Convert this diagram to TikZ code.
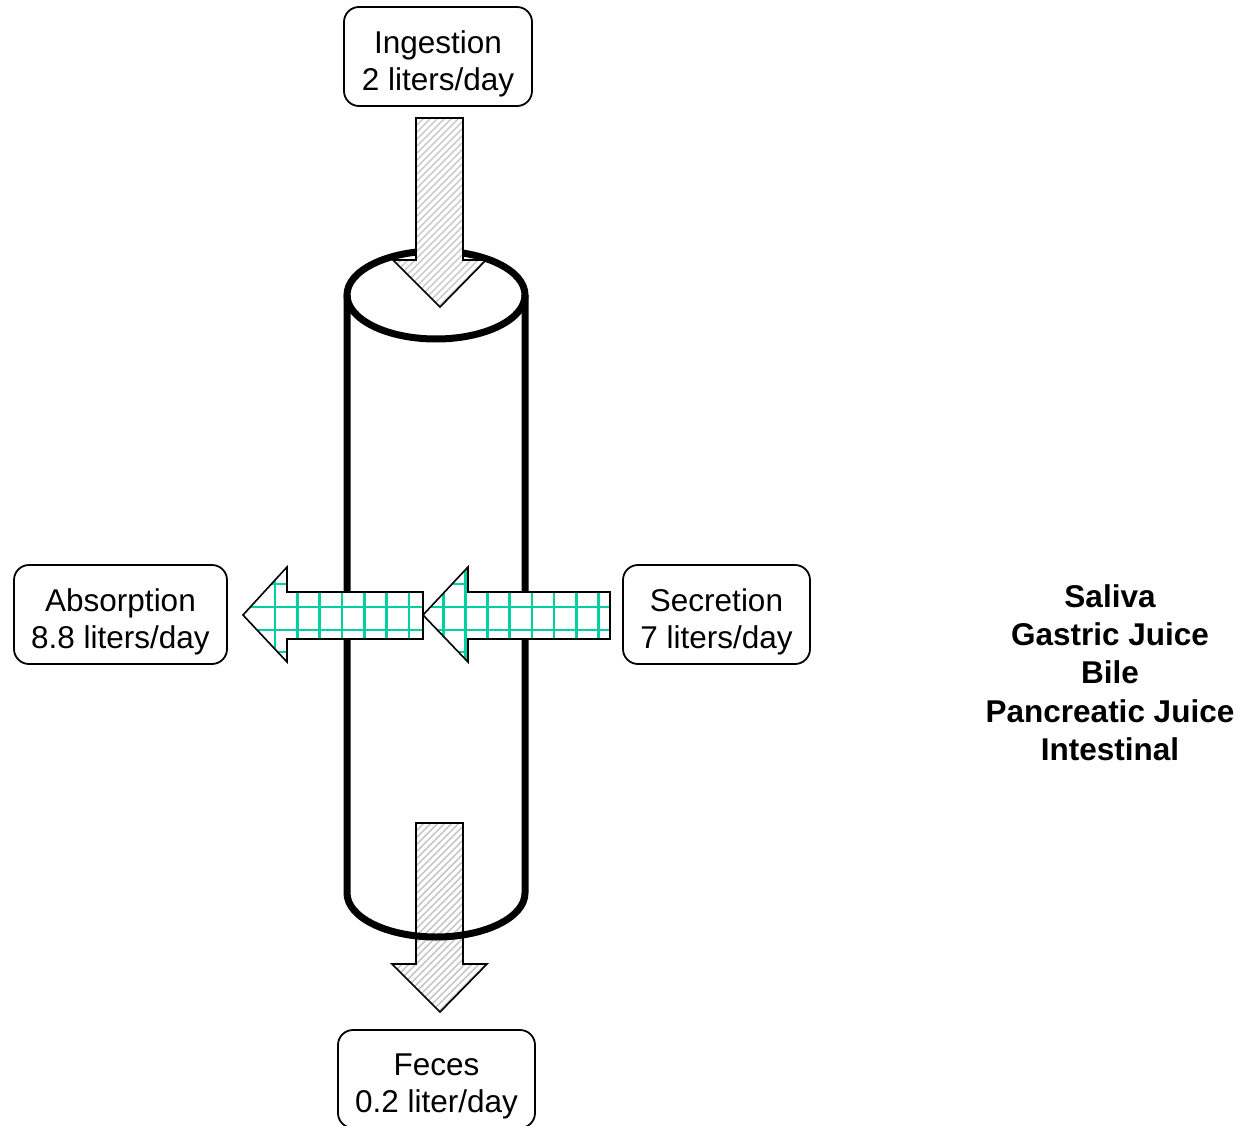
\documentclass[tikz,border=0pt]{standalone}
\usepackage{fontspec}
\setmainfont{Liberation Sans}
\definecolor{gridteal}{RGB}{0,208,160}
\definecolor{hatchgray}{RGB}{195,195,195}
\tikzset{
  lbl/.style={draw=black, line width=1.8pt, rounded corners=15pt, inner sep=0pt, fill=white},
  lbltext/.style={align=center, inner sep=0pt, yshift=-7.5pt, font=\fontsize{31.5}{37}\selectfont},
  outl/.style={draw=black, line width=1.6pt, line join=miter},
  cyl/.style={draw=black, line width=7pt},
  hatchline/.style={draw=hatchgray, line width=1.4pt},
  gridline/.style={draw=gridteal, line width=2.6pt},
}
\begin{document}
\begin{tikzpicture}[x=1pt,y=-1pt]
\useasboundingbox[fill=white] (0,0) rectangle (1245,1126);

% ---- Feces arrow (behind cylinder)
\def\fecespath{(416,823) -- (463,823) -- (463,964) -- (487,964) -- (440,1012) -- (392,964) -- (416,964) -- cycle}
\fill[white] \fecespath;
\begin{scope}
  \clip \fecespath;
  \foreach \a in {200,207,...,490} \draw[hatchline] (\a,1012) -- ++(189,-189);
\end{scope}
\draw[outl] \fecespath;

% ---- Cylinder
\draw[cyl] (436,295) ellipse [x radius=89, y radius=44];
\draw[cyl] (347,295) -- (347,893) arc[start angle=180, end angle=0, x radius=89, y radius=44] -- (525,295);

% ---- Ingestion arrow
\def\ingpath{(416,118) -- (463,118) -- (463,260) -- (486,260) -- (440,307) -- (393,260) -- (416,260) -- cycle}
\fill[white] \ingpath;
\begin{scope}
  \clip \ingpath;
  \foreach \a in {200,207,...,490} \draw[hatchline] (\a,307) -- ++(189,-189);
\end{scope}
\draw[outl] \ingpath;

% ---- Absorption arrow
\def\abspath{(243,615) -- (287,567) -- (287,592) -- (423,592) -- (423,639) -- (287,639) -- (287,662) -- cycle}
\fill[white] \abspath;
\begin{scope}
  \clip \abspath;
  \foreach \k in {0,...,6} \draw[gridline] ({275+22.3*\k},560) -- ({275+22.3*\k},670);
  \foreach \y in {584,607,630,652} \draw[gridline] (240,\y) -- (430,\y);
\end{scope}
\draw[outl] \abspath;

% ---- Secretion arrow
\def\secpath{(423,615) -- (468,567) -- (468,592) -- (610,592) -- (610,639) -- (468,639) -- (468,662) -- cycle}
\fill[white] \secpath;
\begin{scope}
  \clip \secpath;
  \foreach \k in {0,...,7} \draw[gridline] ({443.3+22.15*\k},560) -- ({443.3+22.15*\k},670);
  \foreach \y in {584,607,630,652} \draw[gridline] (420,\y) -- (615,\y);
\end{scope}
\draw[outl] \secpath;

% ---- Labels
\node[lbl, minimum width=188pt, minimum height=99pt] (ing) at (438,56.5) {};
\node[lbltext] (ingt) at (ing.center) {Ingestion\\2 liters/day};
\node[lbl, minimum width=213pt, minimum height=99pt] (abs) at (120.5,614.5) {};
\node[lbltext] (abst) at (abs.center) {Absorption\\8.8 liters/day};
\node[lbl, minimum width=187pt, minimum height=99pt] (sec) at (716.5,614.5) {};
\node[lbltext] (sect) at (sec.center) {Secretion\\7 liters/day};
\node[lbl, minimum width=197pt, minimum height=98pt] (fec) at (436.5,1079) {};
\node[lbltext] (fect) at (fec.center) {Feces\\0.2 liter/day};

\node[align=center, inner sep=0pt, font=\fontsize{31.5}{38.3}\selectfont\bfseries] (src) at (1110,672.5)
  {Saliva\\Gastric Juice\\Bile\\Pancreatic Juice\\Intestinal};
\end{tikzpicture}
\end{document}
